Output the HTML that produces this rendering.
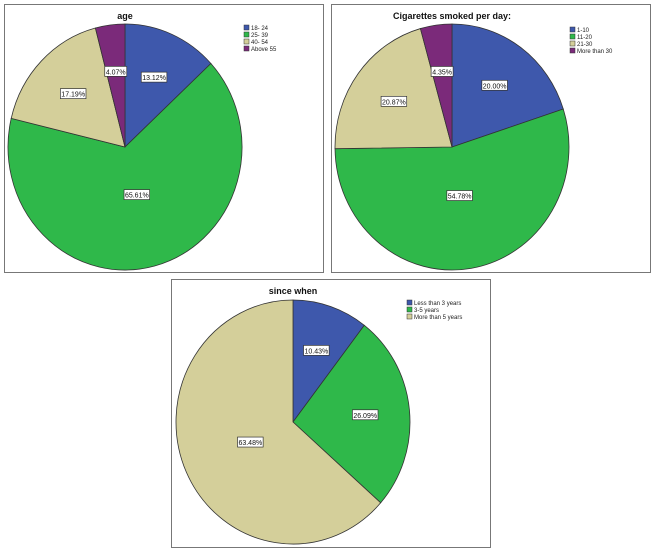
<!DOCTYPE html>
<html><head><meta charset="utf-8"><style>
body{margin:0;background:#fff;width:655px;height:553px;overflow:hidden}
svg{position:absolute;left:0;top:0}
text{font-family:"Liberation Sans",Arial,sans-serif}
</style></head><body>
<svg id="c" width="655" height="553"></svg>
<script>
const ageCategories=["18- 24","25- 39","40- 54","Above 55"];
const ageValues=[13.12,65.61,17.19,4.07];
const cigCategories=["1-10","11-20","21-30","More than 30"];
const cigValues=[20.00,54.78,20.87,4.35];
const sinceCategories=["Less than 3 years","3-5 years","More than 5 years"];
const sinceValues=[10.43,26.09,63.48];
const colors=["#3e58ac","#2fb84a","#d4cf9a","#7b2a7a"];
const sinceColors=["#3e58ac","#2fb84a","#d4cf9a"];
const NS="http://www.w3.org/2000/svg";
const svg=document.getElementById('c');
function mk(tag,attrs,parent){const e=document.createElementNS(NS,tag);for(const k in attrs)e.setAttribute(k,attrs[k]);(parent||svg).appendChild(e);return e;}
function drawPie(o){
  const g=mk('g',{});
  
  
  const fr=mk('rect',{x:o.px+0.5,y:o.py+0.5,width:o.pw,height:o.ph,fill:'#fff',stroke:'#777','stroke-width':1},g);
  
  
  const t=mk('text',{x:o.cx,y:o.py+15,'text-anchor':'middle','font-size':o.tsize||9,'font-weight':'bold',fill:'#111'},g);
  t.textContent=o.title;
  
  
  const total=o.values.reduce((a,b)=>a+b,0);
  const pt=(f,s)=>{const a=f*2*Math.PI;return [o.cx+s*o.rx*Math.sin(a),o.cy-s*o.ry*Math.cos(a)];};
  let acc=0;const labels=[];
  o.values.forEach((v,i)=>{
    const f0=acc/total,f1=(acc+v)/total;acc+=v;
    const p0=pt(f0,1),p1=pt(f1,1);
    const large=(f1-f0)>0.5?1:0;
    const p=mk('path',{d:`M${o.cx},${o.cy}L${p0[0]},${p0[1]}A${o.rx},${o.ry} 0 ${large} 1 ${p1[0]},${p1[1]}Z`,fill:o.colors[i],stroke:'#333','stroke-width':0.8},g);
    
    
    const fm=(f0+f1)/2;const lp=pt(fm,(f1-f0)>0.4?0.4:0.62);
    labels.push([lp,v.toFixed(2)+'%']);
  });
  labels.forEach(([lp,s])=>{
    const w=s.length*3.6+4;
    const r=mk('rect',{x:lp[0]-w/2,y:lp[1]-5,width:w,height:10,fill:'#fff',stroke:'#333','stroke-width':0.7},g);
    
    
    const tx=mk('text',{x:lp[0],y:lp[1]+3,'text-anchor':'middle','font-size':7,fill:'#111'},g);
    tx.textContent=s;
    
    
  });
  o.cats.forEach((c,i)=>{
    const y=o.ly+i*7;
    const sw=mk('rect',{x:o.lx,y:y,width:5,height:5,fill:o.colors[i],stroke:'#333','stroke-width':0.5},g);
    
    
    const lt=mk('text',{x:o.lx+7,y:y+5,'font-size':6,fill:'#222'},g);
    lt.textContent=c;
    
    
  });
}
drawPie({name:'age-pie-chart',title:'age',cats:ageCategories,values:ageValues,colors:colors,px:4,py:4,pw:319,ph:268,cx:125,cy:147,rx:117,ry:123,lx:244,ly:25});
drawPie({name:'cigarettes-pie-chart',title:'Cigarettes smoked per day:',cats:cigCategories,values:cigValues,colors:colors,px:331,py:4,pw:319,ph:268,cx:452,cy:147,rx:117,ry:123,lx:570,ly:27});
drawPie({name:'since-when-pie-chart',title:'since when',cats:sinceCategories,values:sinceValues,colors:sinceColors,px:171,py:279,pw:319,ph:268,cx:293,cy:422,rx:117,ry:122,lx:407,ly:300});
</script>
</body></html>
